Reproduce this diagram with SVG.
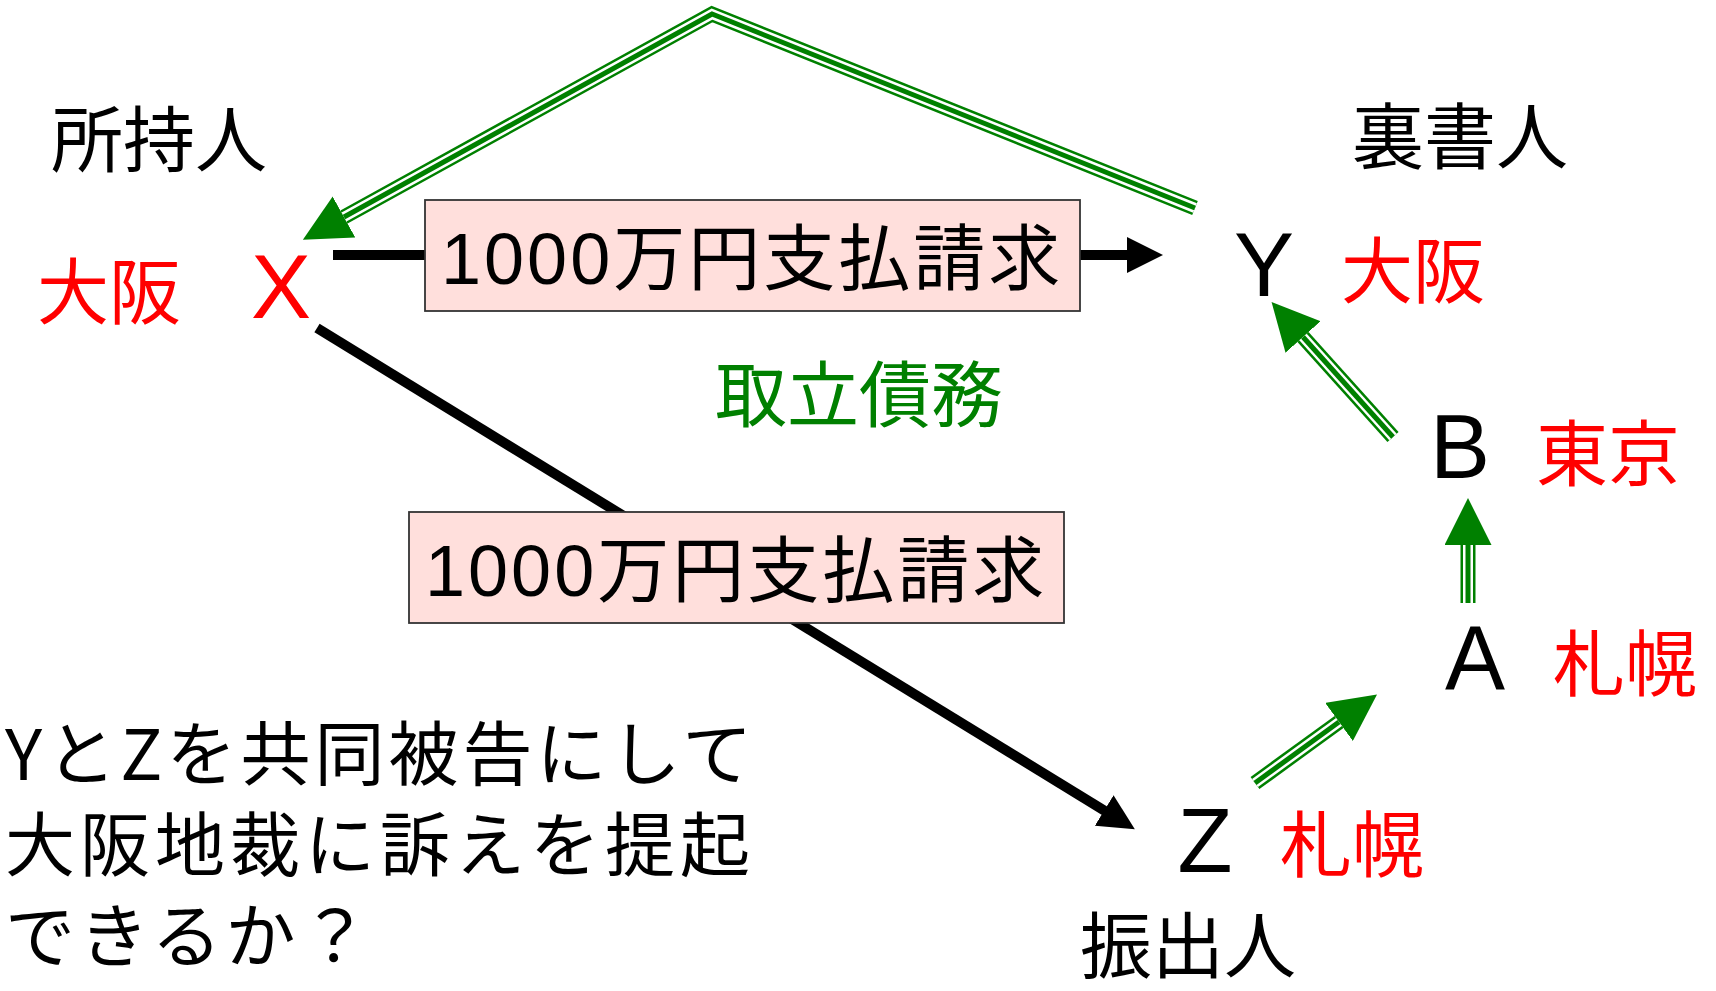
<svg xmlns="http://www.w3.org/2000/svg" width="1716" height="991" viewBox="0 0 1716 991">
<style>
.jp{font-family:"Noto Sans CJK JP","Noto Sans CJK SC",sans-serif;font-size:72px}
.lat{font-family:"Liberation Sans",Arial,sans-serif;font-size:90px;text-anchor:middle}
.red{fill:#FF0000}
.blk{fill:#000}
.grn{fill:#008000}
.box{fill:#FFDFDC;stroke:#333;stroke-width:1.8}
.boxt{font-family:"Liberation Sans","Noto Sans CJK JP",sans-serif;font-size:72px;letter-spacing:3px;fill:#000}
.q{font-family:"Noto Sans CJK JP","Noto Sans CJK SC",sans-serif;font-size:70px;letter-spacing:4px;fill:#000}
.t1{fill:none;stroke:#008000;stroke-width:15;stroke-linejoin:miter;stroke-miterlimit:10}
.t2{fill:none;stroke:#fff;stroke-width:10;stroke-linejoin:miter;stroke-miterlimit:10}
.t3{fill:none;stroke:#008000;stroke-width:5;stroke-linejoin:miter;stroke-miterlimit:10}
.bl{fill:none;stroke:#000;stroke-width:10}
</style>
<defs>
<marker id="ga" viewBox="0 0 47 47" refX="0" refY="23.5" markerWidth="47" markerHeight="47" markerUnits="userSpaceOnUse" orient="auto"><path d="M0,0 L47,23.5 L0,47 Z" fill="#008000"/></marker>
<marker id="ba" viewBox="0 0 36 36" refX="1" refY="18" markerWidth="36" markerHeight="36" markerUnits="userSpaceOnUse" orient="auto"><path d="M0,0 L36,18 L0,36 Z" fill="#000"/></marker>
</defs>
<rect width="1716" height="991" fill="#fff"/>
<g id="connectors">
<path class="bl" d="M333,255 L1128,255" marker-end="url(#ba)"/>
<path class="bl" d="M317,328 L1105,811" marker-end="url(#ba)"/>
<path class="t1" d="M1195,208 L712,14 L344,217" marker-end="url(#ga)"/>
<path class="t2" d="M1195,208 L712,14 L344,217"/>
<path class="t3" d="M1195,208 L712,14 L344,217"/>
<path class="t1" d="M1393,437 L1303,337" marker-end="url(#ga)"/>
<path class="t2" d="M1393,437 L1303,337"/>
<path class="t3" d="M1393,437 L1303,337"/>
<path class="t1" d="M1468,603 L1468,545" marker-end="url(#ga)"/>
<path class="t2" d="M1468,603 L1468,545"/>
<path class="t3" d="M1468,603 L1468,545"/>
<path class="t1" d="M1255,783 L1339,722" marker-end="url(#ga)"/>
<path class="t2" d="M1255,783 L1339,722"/>
<path class="t3" d="M1255,783 L1339,722"/>
</g>
<g id="node-x">
<text class="jp blk" x="51" y="166">所持人</text>
<text class="jp red" x="37" y="318">大阪</text>
<text class="lat red" x="281" y="318">X</text>
</g>
<g id="node-y">
<text class="jp blk" x="1352" y="163">裏書人</text>
<text class="lat blk" x="1264" y="296">Y</text>
<text class="jp red" x="1341" y="297">大阪</text>
</g>
<g id="node-b">
<text class="lat blk" x="1460" y="478">B</text>
<text class="jp red" x="1536" y="480">東京</text>
</g>
<g id="node-a">
<text class="lat blk" x="1475" y="689">A</text>
<text class="jp red" x="1553" y="690">札幌</text>
</g>
<g id="node-z">
<text class="lat blk" x="1205" y="872">Z</text>
<text class="jp red" x="1280" y="871">札幌</text>
<text class="jp blk" x="1080" y="972">振出人</text>
</g>
<g id="label-box1">
<rect class="box" x="425" y="200" width="655" height="111"/>
<text class="boxt" x="441" y="284">1000万円支払請求</text>
</g>
<g id="label-box2">
<rect class="box" x="409" y="512" width="655" height="111"/>
<text class="boxt" x="425" y="596">1000万円支払請求</text>
</g>
<g id="label-toritate">
<text class="jp grn" x="715" y="421">取立債務</text>
</g>
<g id="question">
<text class="q" x="5" y="780">YとZを共同被告にして</text>
<text class="q" x="5" y="871" style="letter-spacing:5px">大阪地裁に訴えを提起</text>
<text class="q" x="5" y="962">できるか？</text>
</g>
</svg>
